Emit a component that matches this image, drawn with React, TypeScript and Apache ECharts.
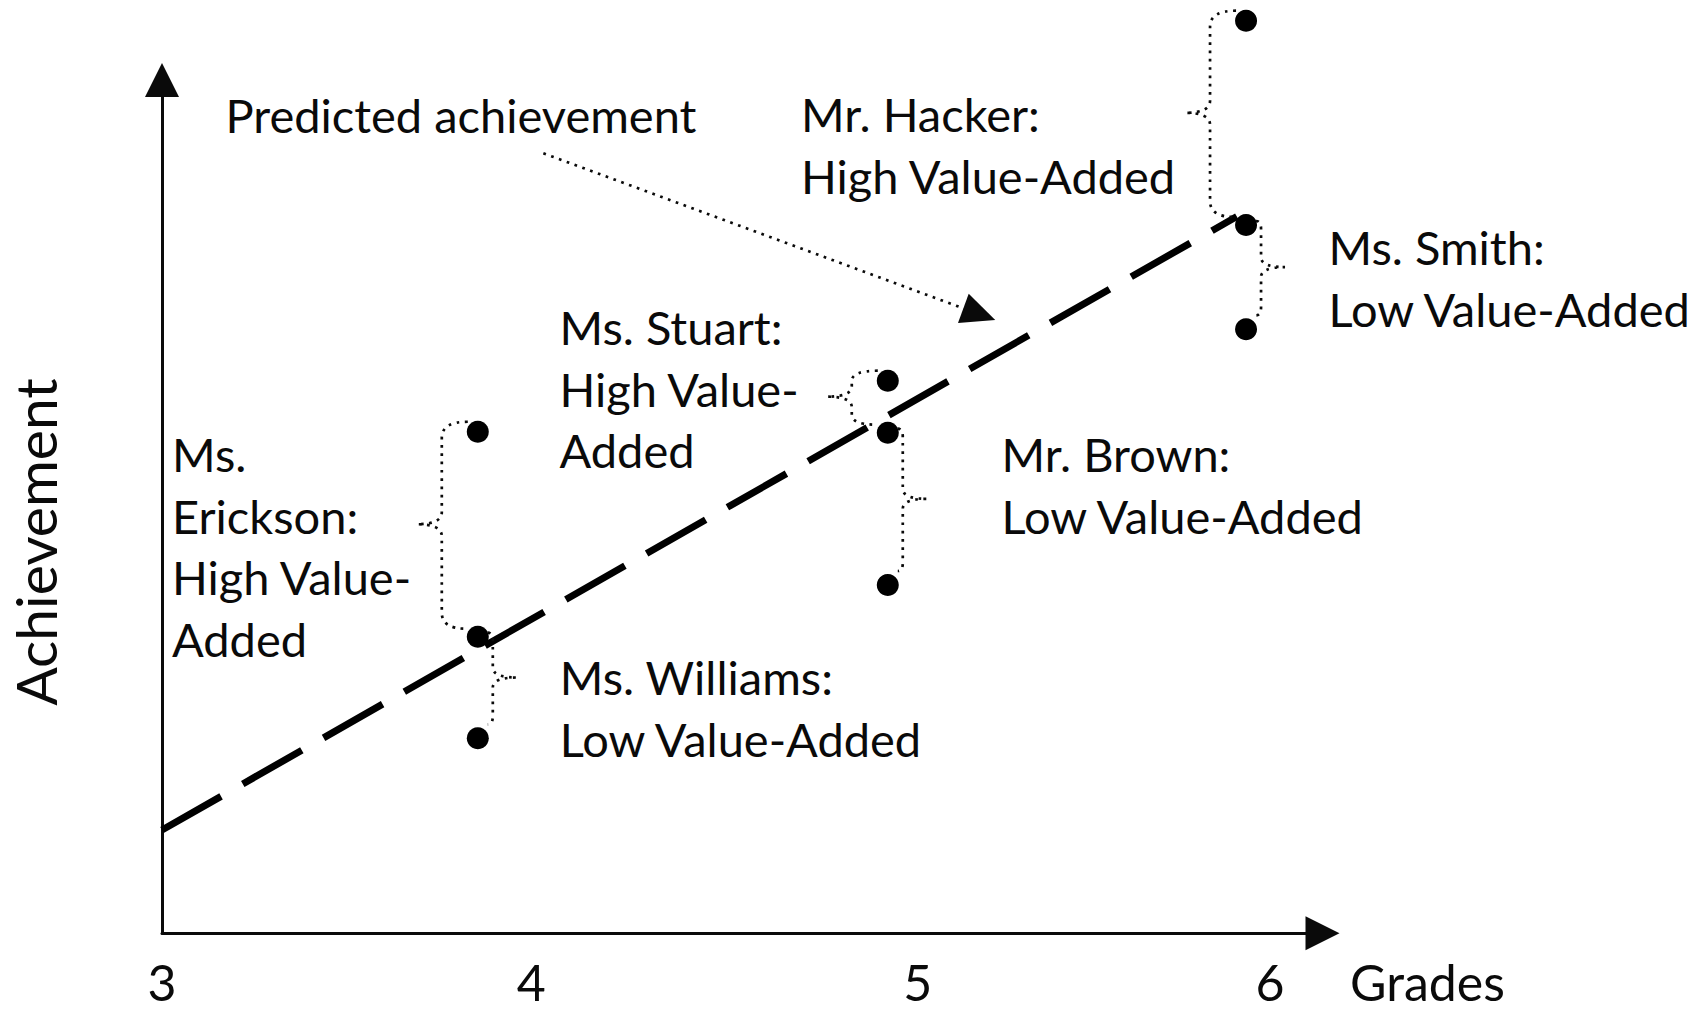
import React, { useEffect, useRef } from 'react';
import * as echarts from 'echarts';

// ---------- data ----------
const gradeTicks = [3, 4, 5, 6];
const groupGrade = [3.855, 4.965, 5.935];
const groupPredicted = [34.76, 58.67, 83.01];
const teacherNames = ['Ms. Erickson', 'Ms. Williams', 'Ms. Stuart', 'Mr. Brown', 'Mr. Hacker', 'Ms. Smith'];
const teacherGroup = [0, 0, 1, 1, 2, 2];
const teacherActual = [58.78, 22.85, 64.76, 40.82, 106.95, 70.78];
const predictedLineX = [3, 5.91];
const predictedLineY = [12.1, 84.0];
const calloutFrom = [4.0325, 91.41];
const calloutTo = [5.2128, 72.55];
const annotationTexts = [
  'Predicted achievement',
  'Mr. Hacker:\nHigh Value-Added',
  'Ms. Smith:\nLow Value-Added',
  'Ms. Stuart:\nHigh Value-\nAdded',
  'Ms.\nErickson:\nHigh Value-\nAdded',
  'Mr. Brown:\nLow Value-Added',
  'Ms. Williams:\nLow Value-Added',
];

// ---------- layout / style ----------
const FONT = 'Lato';
const INK = '#0a0a0a';
const TICK_SIZE = 50;
const TICK_GAP = 28.85;
const annotationPos = [
  [225.5, 84.2],
  [801, 83],
  [1328.5, 216.2],
  [559.5, 296.2],
  [172, 423],
  [1001.5, 423],
  [559.8, 646.2],
];
const labelNudge: Record<number, number> = { 5: 17 };

function bracePath(X: number, Ya: number, Yp: number): string {
  const left = Ya < Yp;
  const Yt = Math.min(Ya, Yp);
  const Yb = Math.max(Ya, Yp);
  const ty = (Yt + Yb) / 2 - 10;
  let x0, y0, vx, tx, x1, y1, rc, rt;
  if (left) {
    x0 = X - 10; y0 = Yt - 10; vx = X - 36; tx = X - 61; x1 = X - 12; y1 = Yb - 8; rc = 16; rt = 12;
  } else {
    x0 = X + 10; y0 = Yt - 4; vx = X + 15; tx = X + 39; x1 = X + 10; y1 = Yb - 14; rc = 8; rt = 10;
  }
  rc = Math.min(rc, (ty - y0) / 2.5, (y1 - ty) / 2.5);
  rt = Math.min(rt, (ty - y0) / 2.5, (y1 - ty) / 2.5);
  return [
    `M${x0} ${y0}`,
    `Q${vx} ${y0} ${vx} ${y0 + rc}`,
    `L${vx} ${ty - rt}`,
    `Q${vx} ${ty} ${tx} ${ty}`,
    `Q${vx} ${ty} ${vx} ${ty + rt}`,
    `L${vx} ${y1 - rc}`,
    `Q${vx} ${y1} ${x1} ${y1}`,
  ].join(' ');
}

export default function App() {
  const ref = useRef<HTMLDivElement>(null);
  useEffect(() => {
    if (!ref.current) return;
    const chart = echarts.init(ref.current, null, { renderer: 'svg' });

    const isTick = (v: number) => gradeTicks.some((t) => Math.abs(t - v) < 1e-6);

    const option: any = {
      animation: false,
      backgroundColor: '#fff',
      grid: { left: 162, right: 384.5, top: 80, bottom: 79.7, containLabel: false },
      xAxis: {
        type: 'value',
        min: 3,
        max: 6.142,
        interval: 1,
        name: 'Grades',
        nameLocation: 'end',
        nameGap: 27.5,
        nameTextStyle: {
          fontFamily: FONT, fontSize: TICK_SIZE, lineHeight: 40, color: INK, align: 'left', verticalAlign: 'top',
          padding: [TICK_GAP, 0, 0, 0],
        },
        axisLine: {
          show: true, onZero: false, symbol: ['none', 'triangle'], symbolSize: [34, 34],
          lineStyle: { color: INK, width: 3 },
        },
        axisTick: { show: false },
        splitLine: { show: false },
        axisLabel: {
          margin: TICK_GAP,
          fontFamily: FONT,
          fontSize: TICK_SIZE,
          lineHeight: 40,
          color: INK,
          formatter: (v: number) => {
            if (!isTick(v)) return '';
            const r = Math.round(v);
            return labelNudge[r] ? `{s|${r}}` : `{n|${r}}`;
          },
          rich: {
            n: { fontFamily: FONT, fontSize: TICK_SIZE, lineHeight: 40, color: INK },
            s: {
              fontFamily: FONT, fontSize: TICK_SIZE, lineHeight: 40, color: INK,
              padding: [0, 0, 0, 2 * (labelNudge[5] || 0)],
            },
          },
        },
      },
      yAxis: {
        type: 'value',
        min: 0,
        max: 100,
        axisLine: {
          show: true, onZero: false, symbol: ['none', 'triangle'], symbolSize: [34, 34],
          lineStyle: { color: INK, width: 3 },
        },
        axisTick: { show: false },
        axisLabel: { show: false },
        splitLine: { show: false },
      },
      graphic: [
        {
          type: 'text',
          x: 35,
          y: 542,
          rotation: Math.PI / 2,
          style: {
            text: 'Achievement', fontFamily: FONT, fontSize: 57, fill: INK, align: 'center', verticalAlign: 'middle',
          },
        },
        ...annotationTexts.map((t, i) => ({
          type: 'text',
          x: annotationPos[i][0],
          y: annotationPos[i][1],
          style: {
            text: t, fontFamily: FONT, fontSize: 47, fill: INK, lineHeight: 61.7, align: 'left', verticalAlign: 'top',
          },
        })),
      ],
      series: [
        {
          type: 'line',
          name: 'Predicted achievement',
          data: predictedLineX.map((x, i) => [x, predictedLineY[i]]),
          symbol: 'none',
          clip: false,
          z: 2,
          lineStyle: { color: '#000', width: 7, type: [68, 25] },
          markLine: {
            silent: true,
            animation: false,
            symbol: ['none', 'triangle'],
            symbolSize: [31, 34],
            label: { show: false },
            lineStyle: { color: INK, width: 2.7, type: [2.7, 5.6], opacity: 1 },
            data: [[{ coord: calloutFrom }, { coord: calloutTo }]],
          },
        },
        {
          type: 'custom',
          name: 'Value-added braces',
          silent: true,
          clip: false,
          z: 3,
          data: teacherActual.map((y, i) => [groupGrade[teacherGroup[i]], y, groupPredicted[teacherGroup[i]]]),
          renderItem: (_params: any, api: any) => {
            const x = api.value(0);
            const pa = api.coord([x, api.value(1)]);
            const pp = api.coord([x, api.value(2)]);
            return {
              type: 'path',
              shape: { pathData: bracePath(pa[0], pa[1], pp[1]) },
              style: { fill: 'none', stroke: INK, lineWidth: 2.7, lineDash: [2.7, 5.6] },
            };
          },
        },
        {
          type: 'scatter',
          name: 'Predicted points',
          data: groupGrade.map((x, i) => [x, groupPredicted[i]]),
          symbolSize: 22,
          clip: false,
          z: 5,
          itemStyle: { color: '#000', opacity: 1 },
        },
        {
          type: 'scatter',
          name: 'Teachers',
          data: teacherActual.map((y, i) => ({ name: teacherNames[i], value: [groupGrade[teacherGroup[i]], y] })),
          symbolSize: 22,
          clip: false,
          z: 5,
          itemStyle: { color: '#000', opacity: 1 },
        },
      ],
    };

    chart.setOption(option);
    return () => chart.dispose();
  }, []);

  return (
    <div
      ref={ref}
      style={{ position: 'fixed', left: 0, top: 0, width: 1707, height: 1013, background: '#fff' }}
    />
  );
}
